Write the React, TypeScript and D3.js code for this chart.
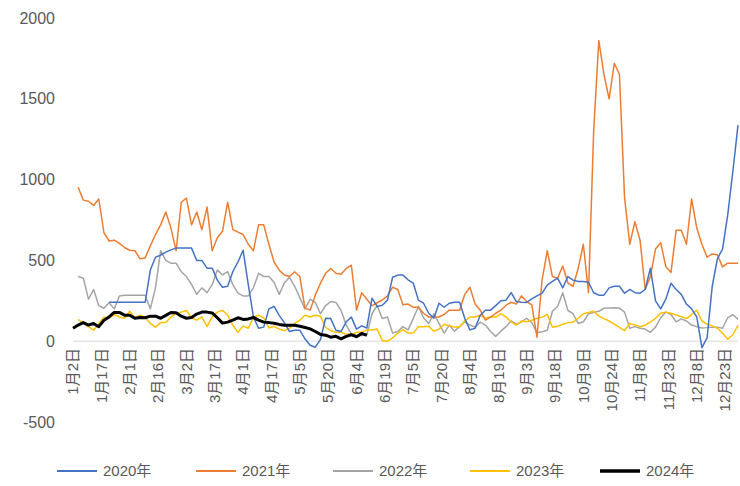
import React from "react";
import * as d3 from "d3";

// x axis: trading-day categories, one label every 11 days
const tickLabels = [
  "1月2日", "1月17日", "2月1日", "2月16日", "3月2日", "3月17日", "4月1日", "4月17日",
  "5月5日", "5月20日", "6月4日", "6月19日", "7月5日", "7月20日", "8月4日", "8月19日",
  "9月3日", "9月18日", "10月9日", "10月24日", "11月8日", "11月23日", "12月8日", "12月23日",
];
const CATEGORY_COUNT = 259;
const LABEL_EVERY = 11;
const POINT_EVERY = 2; // one value every 2 categories

const yTicks = [-500, 0, 500, 1000, 1500, 2000];

const v2020 = [
  null, null, null, null, null, null, null, 241, 241, 241,
  241, 241, 241, 241, 241, 440, 520, 532, 551, 565,
  576, 576, 576, 576, 500, 500, 452, 452, 378, 334,
  340, 430, 490, 563, 350, 150, 80, 87, 200, 215,
  160, 115, 60, 68, 68, 15, -25, -37, 10, 142,
  140, 68, 60, 120, 149, 75, 95, 82, 266, 215,
  223, 254, 396, 409, 409, 380, 360, 254, 235, 173,
  142, 235, 210, 235, 241, 241, 140, 70, 80, 161,
  192, 192, 220, 250, 254, 300, 245, 241, 240, 262,
  280, 297, 347, 370, 390, 330, 400, 378, 370, 370,
  365, 300, 285, 285, 330, 340, 340, 297, 320, 300,
  297, 320, 452, 250, 200, 260, 359, 320, 290, 230,
  200, 150, -40, 20, 340, 510, 570, 780, 1050, 1337,
];

const v2021 = [
  null, 953, 873, 866, 840, 880, 672, 620, 625, 605,
  580, 563, 560, 510, 515, 590, 660, 720, 800, 700,
  560, 860, 885, 720, 800, 690, 830, 560, 640, 680,
  860, 690, 675, 660, 600, 560, 720, 720, 600, 490,
  440, 410, 400, 430, 400, 205, 192, 285, 359, 420,
  450, 420, 415, 450, 470, 192, 300, 260, 220, 238,
  255, 280, 334, 320, 225, 230, 210, 210, 173, 149,
  150, 150, 165, 192, 192, 192, 290, 334, 230, 192,
  130, 149, 173, 192, 223, 241, 230, 280, 245, 225,
  25, 380, 560, 400, 390, 465, 360, 340, 450, 600,
  300, 1300, 1860, 1650, 1500, 1720, 1650, 885, 600, 740,
  625, 320, 400, 570, 610, 460, 425, 687, 687, 600,
  880, 700, 600, 520, 540, 535, 460, 483, 483, 483,
];

const v2022 = [
  null, 400, 390, 260, 320, 220, 204, 238, 200, 280,
  285, 285, 285, 285, 285, 200, 330, 560, 500, 483,
  483, 430, 400, 350, 290, 330, 300, 350, 440, 410,
  430, 350, 297, 280, 280, 330, 420, 400, 400, 365,
  290, 360, 395, 340, 270, 200, 260, 240, 170, 220,
  245, 240, 190, 100, 45, 35, 35, 40, 170, 220,
  140, 150, 50, 60, 90, 70, 140, 215, 145, 110,
  170, 110, 50, 100, 62, 90, 120, 100, 87, 118,
  100, 60, 30, 62, 90, 125, 105, 120, 142, 115,
  52, 58, 68, 185, 215, 300, 190, 170, 110, 120,
  170, 178, 185, 204, 206, 207, 205, 180, 80, 90,
  80, 75, 55, 87, 145, 180, 165, 120, 138, 125,
  100, 90, 82, 84, 87, 87, 80, 145, 165, 135,
];

const v2023 = [
  null, 135, 111, 90, 68, 110, 149, 145, 165, 150,
  142, 185, 145, 161, 149, 110, 87, 115, 115, 150,
  170, 180, 190, 145, 130, 150, 90, 150, 180, 192,
  160, 100, 55, 95, 80, 149, 161, 145, 82, 92,
  75, 65, 80, 110, 130, 161, 150, 161, 155, 85,
  65, 55, 55, 45, 40, 55, 56, 70, 70, 75,
  5, 0, 20, 50, 72, 50, 50, 90, 90, 93,
  62, 75, 105, 95, 87, 90, 125, 149, 150, 161,
  142, 150, 149, 170, 149, 120, 100, 125, 120, 130,
  142, 149, 165, 87, 92, 105, 115, 118, 142, 170,
  178, 185, 155, 140, 125, 105, 85, 65, 110, 100,
  90, 99, 118, 142, 173, 180, 173, 162, 152, 140,
  165, 192, 125, 105, 95, 80, 50, 12, 40, 100,
];

const v2024 = [
  80, 100, 115, 100, 110, 90, 130, 150, 178, 178,
  161, 161, 142, 147, 145, 155, 155, 142, 160, 178,
  176, 155, 142, 147, 168, 180, 180, 175, 145, 112,
  118, 130, 145, 135, 138, 147, 130, 118, 115, 111,
  104, 99, 99, 99, 92, 85, 76, 60, 42, 37,
  25, 30, 15, 30, 40, 28, 48, 37,
];

const seriesNames = ["2020年", "2021年", "2022年", "2023年", "2024年"];
const seriesValues = [v2020, v2021, v2022, v2023, v2024];
const seriesColors = ["#4472C4", "#ED7D31", "#A5A5A5", "#FFC000", "#000000"];
const seriesWidths = [1.5, 1.5, 1.5, 1.5, 3];
const legendX = [57, 196, 333, 470, 600];

const WIDTH = 740;
const HEIGHT = 486;
const FONT = '"Liberation Sans", "Noto Sans CJK SC", sans-serif';
const TEXT_COLOR = "#595959";

const App = () => {
  const xScale = d3.scaleLinear().domain([0, CATEGORY_COUNT - 1]).range([73, 738]);
  const yScale = d3.scaleLinear().domain([-500, 2000]).range([422, 18]);

  const line = d3
    .line<number | null>()
    .defined((d) => d != null)
    .x((_, i) => xScale(i * POINT_EVERY))
    .y((d) => yScale(d as number));

  // draw the thin series first, 2024 on top
  const order = [2, 3, 1, 0, 4];

  return (
    <svg
      width={WIDTH}
      height={HEIGHT}
      style={{ position: "absolute", left: 0, top: 0, background: "#fff" }}
      fontFamily={FONT}
    >
      <line
        x1={xScale(0)}
        x2={xScale(CATEGORY_COUNT - 1)}
        y1={yScale(0)}
        y2={yScale(0)}
        stroke="#D9D9D9"
        strokeWidth={1}
      />

      {yTicks.map((t) => (
        <text
          key={t}
          x={55}
          y={yScale(t)}
          dy="0.35em"
          textAnchor="end"
          fontSize={16}
          fill={TEXT_COLOR}
        >
          {t}
        </text>
      ))}

      {tickLabels.map((label, i) => {
        const x = xScale(i * LABEL_EVERY);
        return (
          <text
            key={label}
            transform={`translate(${x},${348}) rotate(-90)`}
            dy="0.35em"
            textAnchor="end"
            fontSize={15}
            fill={TEXT_COLOR}
          >
            {label}
          </text>
        );
      })}

      {order.map((s) => (
        <path
          key={seriesNames[s]}
          d={line(seriesValues[s]) ?? ""}
          fill="none"
          stroke={seriesColors[s]}
          strokeWidth={seriesWidths[s]}
          strokeLinejoin="round"
        />
      ))}

      {seriesNames.map((name, i) => (
        <g key={name} transform={`translate(${legendX[i]},${471})`}>
          <line x1={0} x2={40} y1={0} y2={0} stroke={seriesColors[i]} strokeWidth={seriesWidths[i] + 0.5} />
          <text x={46} y={0} dy="0.35em" fontSize={15} fill={TEXT_COLOR}>
            {name}
          </text>
        </g>
      ))}
    </svg>
  );
};

export default App;
